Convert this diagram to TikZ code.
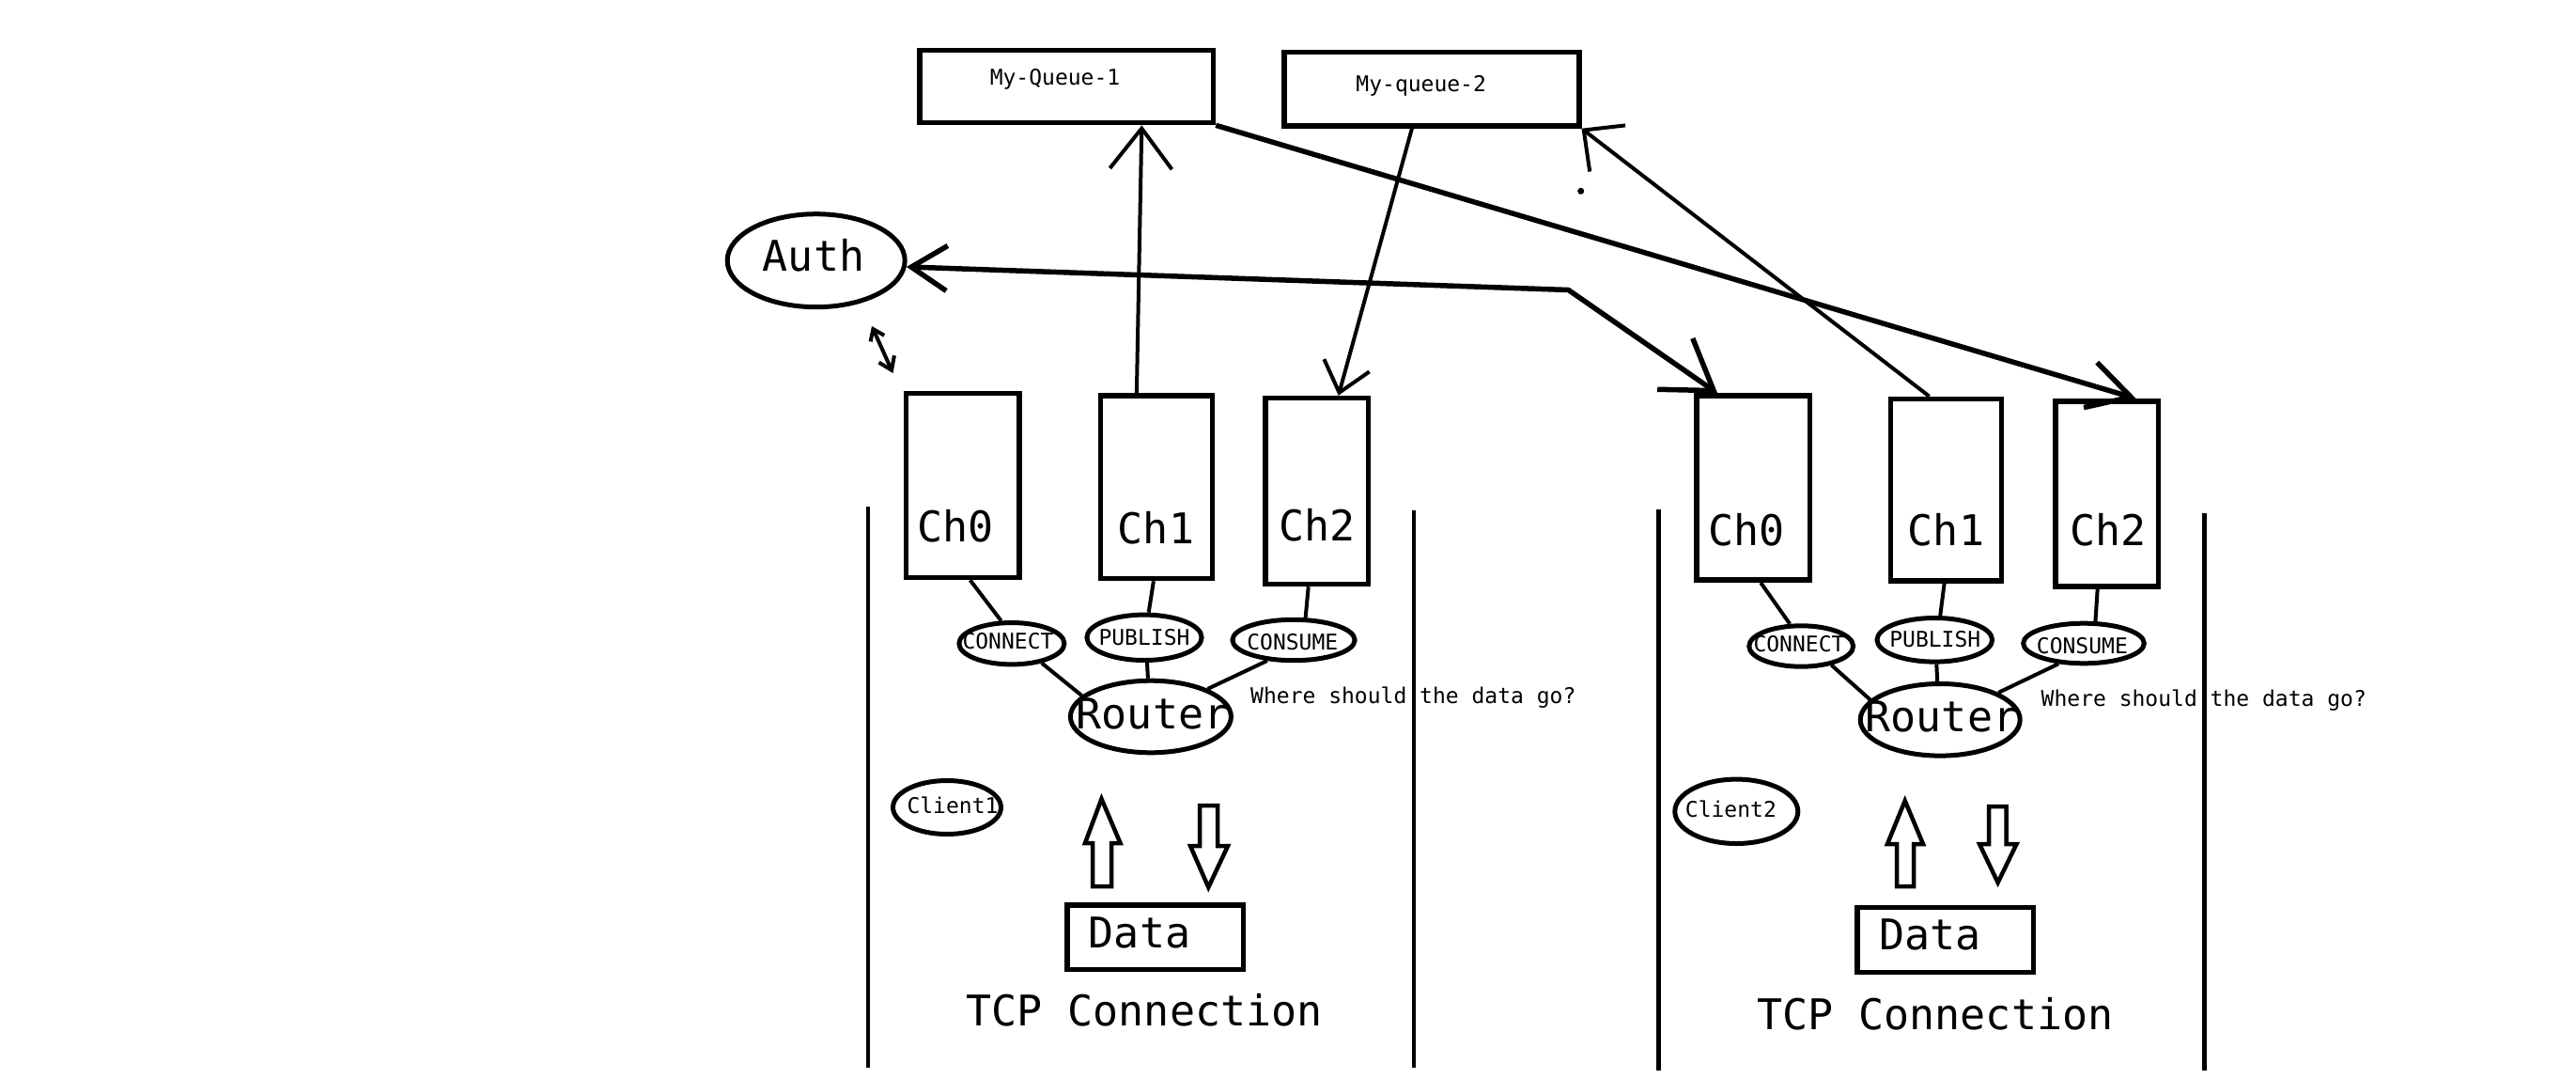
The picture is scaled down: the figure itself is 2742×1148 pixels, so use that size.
\documentclass[tikz,border=0pt]{standalone}
\usepackage{fontspec}
\newfontfamily\djm{DejaVu Sans Mono}
\usetikzlibrary{arrows.meta,shapes.geometric}
\begin{document}
\begin{tikzpicture}[x=1pt,y=-1pt,
  box/.style={draw,line width=5.5pt,rectangle,inner sep=0pt},
  oval/.style={draw,line width=5pt,ellipse,inner sep=0pt},
  bigtxt/.style={font=\djm\fontsize{45}{54}\selectfont,inner sep=0pt,anchor=base},
  smalltxt/.style={font=\djm\fontsize{23}{28}\selectfont,inner sep=0pt,anchor=base},
  conn/.style={line width=4pt},
  thickconn/.style={line width=5.5pt},
  wall/.style={line width=4.5pt},
  hollow/.style={line width=4.5pt,line join=miter}
]
\useasboundingbox (0,0) rectangle (2742,1148);
\fill[white] (0,0) rectangle (2742,1148);

% queues
\node[box,minimum width=312.3pt,minimum height=77.1pt] (mq1) at (1135.3,92) {};
\node[box,minimum width=313.7pt,minimum height=78.5pt] (mq2) at (1523.9,94.7) {};
\node[smalltxt] (tmq1) at (1123,91) {My-Queue-1};
\node[smalltxt] (tmq2) at (1512.7,97) {My-queue-2};

% auth
\node[oval,minimum width=189pt,minimum height=99pt] (auth) at (868.7,277.2) {};
\node[bigtxt] (tauth) at (866,288.3) {Auth};

% left channels
\node[box,minimum width=120.5pt,minimum height=196pt] (lch0) at (1024.7,516.5) {};
\node[box,minimum width=118.7pt,minimum height=194.5pt] (lch1) at (1230.9,518.3) {};
\node[box,minimum width=109.2pt,minimum height=198pt] (lch2) at (1401.7,522.5) {};
\node[bigtxt] (tlch0) at (1017,576.7) {Ch0};
\node[bigtxt] (tlch1) at (1230.5,578.3) {Ch1};
\node[bigtxt] (tlch2) at (1402,575) {Ch2};

% right channels
\node[box,minimum width=120.5pt,minimum height=196pt] (rch0) at (1866.2,519.2) {};
\node[box,minimum width=118pt,minimum height=193.5pt] (rch1) at (2071.6,521.2) {};
\node[box,minimum width=109.2pt,minimum height=197pt] (rch2) at (2242.7,525.3) {};
\node[bigtxt] (trch0) at (1859,580) {Ch0};
\node[bigtxt] (trch1) at (2071.5,580) {Ch1};
\node[bigtxt] (trch2) at (2243.8,580) {Ch2};

% left ovals
\node[oval,minimum width=112pt,minimum height=44.4pt] (lcon) at (1076.9,684.7) {};
\node[oval,minimum width=122.2pt,minimum height=48.4pt] (lpub) at (1218,678.3) {};
\node[oval,minimum width=130.2pt,minimum height=43.4pt] (lcons) at (1377,681) {};
\node[oval,minimum width=171pt,minimum height=76.6pt] (lrouter) at (1224.9,762.5) {};
\node[oval,minimum width=115pt,minimum height=57pt] (client1) at (1008,859) {};
\node[smalltxt] (tlcon) at (1073,690.7) {CONNECT};
\node[smalltxt] (tlpub) at (1218,686.5) {PUBLISH};
\node[smalltxt] (tlcons) at (1375.8,691.5) {CONSUME};
\node[bigtxt] (tlrouter) at (1227,775) {Router};
\node[smalltxt,anchor=base west] (tlwhere) at (1331,748) {Where should the data go?};
\node[smalltxt] (tclient1) at (1014,865) {Client1};

% right ovals
\node[oval,minimum width=110.8pt,minimum height=43.4pt] (rcon) at (1917.2,687.5) {};
\node[oval,minimum width=122.6pt,minimum height=46.6pt] (rpub) at (2059.3,680.8) {};
\node[oval,minimum width=128.6pt,minimum height=42.6pt] (rcons) at (2218,684.5) {};
\node[oval,minimum width=170pt,minimum height=76.6pt] (rrouter) at (2065.2,765.8) {};
\node[oval,minimum width=131pt,minimum height=68.4pt] (client2) at (1848.3,863.3) {};
\node[smalltxt] (trcon) at (1915,693) {CONNECT};
\node[smalltxt] (trpub) at (2059.8,688) {PUBLISH};
\node[smalltxt] (trcons) at (2216.4,695) {CONSUME};
\node[bigtxt] (trrouter) at (2066.9,778) {Router};
\node[smalltxt,anchor=base west] (trwhere) at (2172.5,751) {Where should the data go?};
\node[smalltxt] (tclient2) at (1842.4,869) {Client2};

% data boxes
\node[box,minimum width=187.8pt,minimum height=68.5pt] (ldata) at (1229.75,997) {};
\node[box,minimum width=187.9pt,minimum height=69pt] (rdata) at (2070.7,1000) {};
\node[bigtxt] (tldata) at (1213,1008.3) {Data};
\node[bigtxt] (trdata) at (2054.7,1010) {Data};
\node[bigtxt] (tltcp) at (1218,1091.7) {TCP Connection};
\node[bigtxt] (trtcp) at (2059.8,1095) {TCP Connection};

% connection walls
\draw[wall] (924,538.5) -- (924,1136);
\draw[wall] (1505,542.7) -- (1505,1136);
\draw[wall] (1765.5,542.3) -- (1765.5,1139);
\draw[wall] (2346.5,545.7) -- (2346.5,1139);

% hollow block arrows
\draw[hollow] (1163,943) -- (1163,897) -- (1155,897) -- (1172.5,850) -- (1192.5,897) -- (1183,897) -- (1183,943) -- cycle;
\draw[hollow] (1277,857) -- (1296,857) -- (1296,900) -- (1307,900) -- (1286.3,944) -- (1267,900) -- (1277,900) -- cycle;
\draw[hollow] (2019,943) -- (2019,898) -- (2009,898) -- (2027.7,852) -- (2047,898) -- (2037,898) -- (2037,943) -- cycle;
\draw[hollow] (2117,858) -- (2135.5,858) -- (2135.5,898) -- (2146.5,898) -- (2126.6,939) -- (2107,898) -- (2117,898) -- cycle;

% top connectors
\draw[conn,-{Straight Barb[length=43pt,width=66pt]}] ([xshift=-21pt]lch1.north) -- ([xshift=80pt]mq1.south);
\draw[conn,-{Straight Barb[length=30pt,width=50pt]}] ([xshift=-21pt]mq2.south) -- ([xshift=23pt]lch2.north);
\draw[thickconn,-{Straight Barb[length=45pt,width=50pt]}] (mq1.south east) -- ([xshift=31pt]rch2.north);
\draw[conn,-{Straight Barb[length=32pt,width=62pt]}] ([xshift=-18pt]rch1.north) -- (mq2.south east);
\coordinate (acorner) at (1669.5,308.5);
\draw[thickconn,{Straight Barb[length=38pt,width=48pt]}-{Straight Barb[length=50pt,width=66pt]}] (auth.-4) -- (acorner) -- ([xshift=-38pt]rch0.north);
\coordinate (da1) at (928,347);
\coordinate (da2) at (950.5,397);
\draw[conn,{Straight Barb[length=11pt,width=16pt]}-{Straight Barb[length=13pt,width=18pt]}] (da1) -- (da2);
\fill (1682.7,203.3) circle (3.5);

% left small connectors
\draw[conn] ([xshift=8pt]lch0.south) -- (lcon.115);
\draw[conn] (lcon.-33) -- (lrouter.163);
\draw[conn] ([xshift=-3pt]lch1.south) -- (lpub.80);
\draw[conn] ([xshift=3pt]lpub.south) -- ([xshift=-3pt]lrouter.north);
\draw[conn] ([xshift=-9pt]lch2.south) -- (lcons.62);
\draw[conn] (lcons.218) -- (lrouter.26);

% right small connectors
\draw[conn] ([xshift=8pt]rch0.south) -- (rcon.117);
\draw[conn] (rcon.-32) -- (rrouter.164);
\draw[conn] ([xshift=-2pt]rch1.south) -- (rpub.77);
\draw[conn] ([xshift=2pt]rpub.south) -- ([xshift=-3pt]rrouter.north);
\draw[conn] ([xshift=-10pt]rch2.south) -- (rcons.62);
\draw[conn] (rcons.219) -- (rrouter.25);
\end{tikzpicture}
\end{document}
